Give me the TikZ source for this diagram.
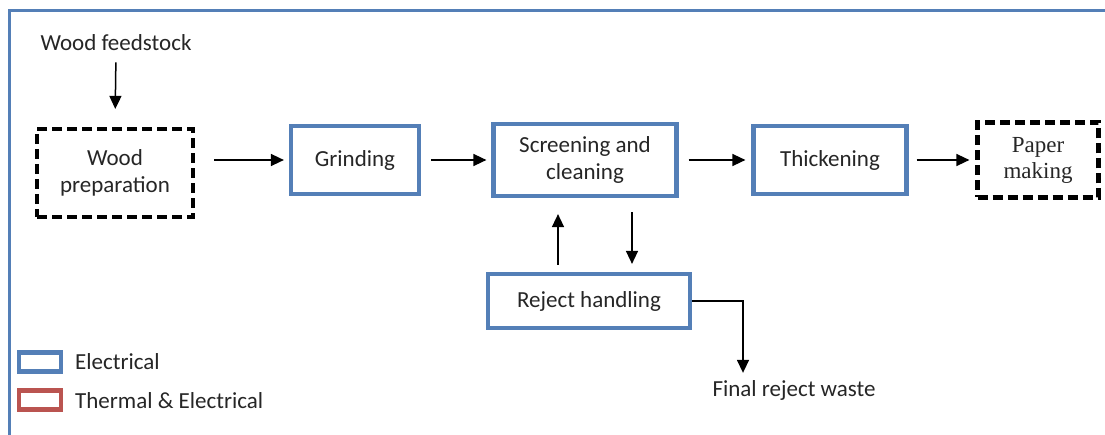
\documentclass[tikz,border=0pt]{standalone}
\usepackage{fontspec}
\setmainfont{Carlito}
\newfontfamily\serifface{Liberation Serif}
\usetikzlibrary{arrows.meta}
\definecolor{elecblue}{RGB}{84,127,183}
\definecolor{thermred}{RGB}{186,84,80}
\definecolor{txtgray}{RGB}{38,38,38}
\begin{document}
\begin{tikzpicture}[x=1pt,y=-1pt,
  every node/.style={font=\fontsize{23}{27}\selectfont, text=txtgray},
  procbox/.style={draw=elecblue, line width=4.2pt, align=center, inner sep=0pt},
  extbox/.style={draw=black, line width=4.2pt, dash pattern=on 10pt off 5pt, align=center, inner sep=0pt},
  keybox/.style={line width=4.2pt, minimum width=42pt, minimum height=19pt, inner sep=0pt},
  flow/.style={draw=black, line width=1.5pt, -{Triangle[length=13pt,width=12pt]}},
  plain/.style={inner sep=1pt}]
\useasboundingbox (0,0) rectangle (1105,435);
\fill[white] (0,0) rectangle (1105,435);
% outer frame (top and left edges only)
\draw[elecblue, line width=3pt] (9,435) -- (9,11) -- (1105,11);

% process steps
\node[plain] (feed) at (116,43) {Wood feedstock};
\node[extbox, minimum width=156pt, minimum height=88pt] (prep) at (115,173) {Wood\\preparation};
\node[procbox, minimum width=128pt, minimum height=68pt] (grind) at (355,160) {Grinding};
\node[procbox, minimum width=183pt, minimum height=72pt] (screen) at (585,160) {Screening and\\cleaning};
\node[procbox, minimum width=153pt, minimum height=68pt] (thick) at (830,160) {Thickening};
\node[extbox, minimum width=121pt, minimum height=75pt, font=\serifface\fontsize{23}{26}\selectfont] (paper) at (1038,160) {Paper\\making};
\node[procbox, minimum width=202pt, minimum height=54pt] (reject) at (589,301) {Reject handling};
\node[plain] (waste) at (794,390) {Final reject waste};

% flow arrows
\draw[flow, shorten <=10pt, shorten >=18pt] (feed.south) -- (prep.north);
\draw[flow, shorten <=19pt, shorten >=5pt] (prep.east |- grind.west) -- (grind.west);
\draw[flow, shorten <=10pt, shorten >=5pt] (grind.east) -- (screen.west);
\draw[flow, shorten <=10pt, shorten >=6pt] (screen.east) -- (thick.west);
\draw[flow, shorten <=8pt, shorten >=6pt] (thick.east) -- (paper.west);
\draw[flow, shorten <=7pt, shorten >=16pt] ([xshift=-31pt]reject.north) -- ([xshift=-27pt]screen.south);
\draw[flow, shorten <=14pt, shorten >=8pt] ([xshift=47pt]screen.south) -- ([xshift=43pt]reject.north);
\draw[flow, shorten >=6pt] (reject.east) -| ([xshift=-51pt]waste.north);

% legend
\node[keybox, draw=elecblue] (keyE) at (40,362) {};
\node[plain, anchor=west] (labE) at (74,362) {Electrical};
\node[keybox, draw=thermred] (keyT) at (40,400) {};
\node[plain, anchor=west] (labT) at (74,401) {Thermal \& Electrical};
\end{tikzpicture}
\end{document}
